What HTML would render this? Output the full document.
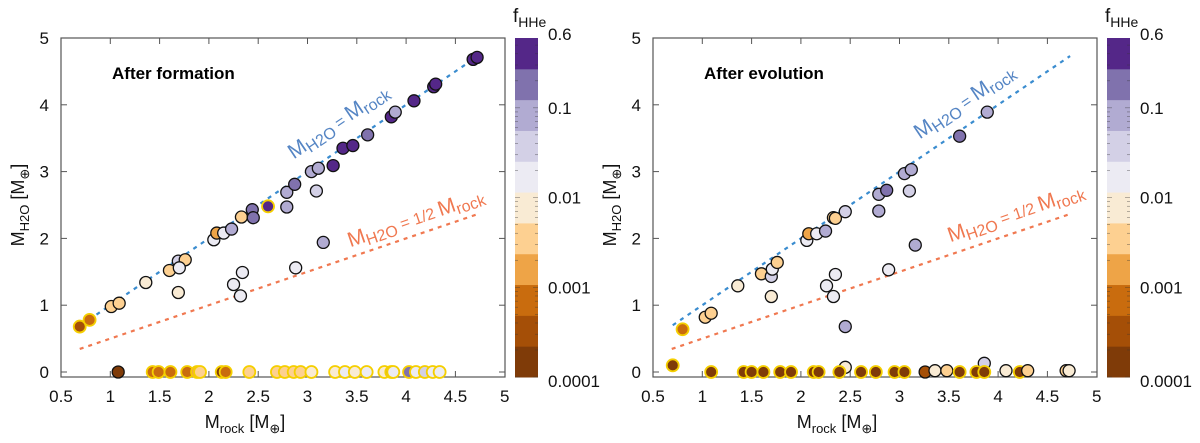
<!DOCTYPE html>
<html><head><meta charset="utf-8"><style>
html,body{margin:0;padding:0;background:#fff;}
svg{display:block;font-family:"Liberation Sans",Arial,sans-serif;}
</style></head><body>
<svg id="fig" width="1200" height="443" viewBox="0 0 1200 443" xmlns="http://www.w3.org/2000/svg"></svg>
<script>
// ---- data ----
const bandColors = ["#7f3b08","#a54f07","#c96c0e","#eea447","#fdd091","#f9ebd4","#ecebf3","#d3d0e6","#b1abd2","#8072ad","#542788"];
const cbTickVals = [0.6,0.1,0.01,0.001,0.0001];
const cbTickLabels = ["0.6","0.1","0.01","0.001","0.0001"];
const xTickVals = [0.5,1,1.5,2,2.5,3,3.5,4,4.5,5];
const xTickLabels = ["0.5","1","1.5","2","2.5","3","3.5","4","4.5","5"];
const yTickVals = [0,1,2,3,4,5];
const yTickLabels = ["0","1","2","3","4","5"];

// After formation (x = Mrock, y = MH2O, f = fHHe, e = edge y/k)
const formX = [0.69,0.79,1.01,1.09,1.36,1.60,1.69,1.76,1.70,1.69,2.05,2.08,2.15,2.23,2.33,2.44,2.45,2.60,2.34,2.25,2.32,2.79,2.87,2.79,3.04,3.11,3.09,2.88,3.16,3.26,3.36,3.46,3.61,3.85,3.89,4.08,4.28,4.30,4.68,4.72,
 1.08,1.43,1.49,1.61,1.78,1.88,1.91,2.13,2.17,2.41,2.69,2.77,2.86,2.93,3.04,3.28,3.38,3.48,3.60,3.78,3.85,3.87,4.03,4.10,4.19,4.27,4.34];
const formY = [0.68,0.78,0.98,1.03,1.34,1.52,1.66,1.68,1.56,1.19,1.98,2.08,2.08,2.14,2.32,2.43,2.31,2.48,1.49,1.31,1.14,2.69,2.81,2.47,3.00,3.05,2.71,1.56,1.94,3.09,3.35,3.39,3.55,3.82,3.89,4.06,4.27,4.31,4.68,4.71,
 0,0,0,0,0,0,0,0,0,0,0,0,0,0,0,0,0,0,0,0,0,0,0,0,0,0,0];
const formF = [0.0003,0.0008,0.0035,0.0035,0.01,0.0035,0.04,0.0035,0.02,0.01,0.02,0.0016,0.02,0.09,0.0035,0.2,0.2,0.45,0.02,0.02,0.02,0.09,0.2,0.09,0.09,0.09,0.04,0.02,0.09,0.45,0.45,0.45,0.2,0.45,0.09,0.45,0.45,0.45,0.45,0.45,
 0.00015,0.0008,0.0008,0.0008,0.0008,0.0016,0.0035,0.00015,0.0008,0.0035,0.0035,0.0035,0.0035,0.0035,0.01,0.01,0.02,0.01,0.02,0.01,0.2,0.02,0.2,0.02,0.04,0.02,0.02];
const formE = "yykkkkkkkkkkkkkkkykkkkkkkkkkkkkkkkkkkkkkkyyyyyyyyyyyyyyyyyyyyyyyyyyy";

// After evolution
const evoX = [0.70,0.80,1.03,1.09,1.36,1.60,1.70,1.71,1.76,1.70,2.06,2.08,2.16,2.25,2.33,2.35,2.45,2.35,2.26,2.33,2.45,2.79,2.87,2.79,3.05,3.12,3.10,2.89,3.16,3.61,3.89,2.45,3.86,
 1.09,1.42,1.50,1.62,1.79,1.90,2.13,2.18,2.39,2.61,2.76,2.95,3.05,3.26,3.36,3.48,3.61,3.78,3.86,4.08,4.22,4.30,4.69,4.72];
const evoY = [0.10,0.64,0.82,0.88,1.29,1.47,1.43,1.54,1.64,1.13,1.97,2.07,2.07,2.11,2.31,2.30,2.40,1.46,1.29,1.13,0.68,2.66,2.72,2.41,2.97,3.03,2.71,1.53,1.90,3.53,3.89,0.07,0.13,
 0,0,0,0,0,0,0,0,0,0,0,0,0,0,0.02,0.02,0,0,0,0.02,0,0.02,0.02,0.02];
const evoF = [0.00015,0.0008,0.0035,0.0035,0.01,0.0035,0.04,0.02,0.0035,0.01,0.02,0.0016,0.02,0.09,0.0035,0.0035,0.04,0.02,0.02,0.02,0.09,0.09,0.2,0.09,0.09,0.09,0.04,0.02,0.09,0.2,0.09,0.01,0.04,
 0.00015,0.00015,0.00015,0.00015,0.00015,0.00015,0.00015,0.00015,0.00015,0.00015,0.00015,0.00015,0.00015,0.0003,0.01,0.0035,0.00015,0.00015,0.00015,0.01,0.00015,0.0035,0.0035,0.01];
const evoE = "yykkkkkkkkkkkkkkkkkkkkkkkkkkkkkkkyyyyyyyyyyyyykkkyyykykkk";

// ---- drawing ----
const NS = "http://www.w3.org/2000/svg";
const svg = document.getElementById('fig');
function mk(tag, attrs, parent){ const e=document.createElementNS(NS,tag); for(const k in attrs) e.setAttribute(k,attrs[k]); (parent||svg).appendChild(e); return e; }
function bandOf(f){ const lo=Math.log10(0.0001), hi=Math.log10(0.6); let b=Math.floor((Math.log10(f)-lo)/(hi-lo)*11); return Math.max(0,Math.min(10,b)); }

function panel(px0, title, X, Y, F, E, blueLbl, orangeLbl, cbx, name){
  const g = mk('g',{});
  
  
  const L=px0, R=px0+444, T=38, B=377;
  const sx = v => L + (v-0.5)*98.6;
  const sy = v => 372 - v*66.8;
  const fr = mk('rect',{x:L,y:T,width:R-L,height:B-T,fill:'none',stroke:'#555','stroke-width':1.2},g);
   
  xTickVals.forEach((v,i)=>{
    const x=sx(v);
    if(i>0 && i<xTickVals.length-1){ mk('line',{x1:x,y1:B,x2:x,y2:B-6,stroke:'#555'},g); mk('line',{x1:x,y1:T,x2:x,y2:T+6,stroke:'#555'},g); }
    const t=mk('text',{x:x,y:402,'font-size':17,'text-anchor':'middle',fill:'#111'},g); t.textContent=xTickLabels[i];
     
  });
  yTickVals.forEach((v,i)=>{
    const y=sy(v);
    if(i<yTickVals.length-1){ mk('line',{x1:L,y1:y,x2:L+6,y2:y,stroke:'#555'},g); mk('line',{x1:R,y1:y,x2:R-6,y2:y,stroke:'#555'},g); }
    const t=mk('text',{x:L-12,y:y+6,'font-size':17,'text-anchor':'end',fill:'#111'},g); t.textContent=yTickLabels[i];
     
  });
  const xt=mk('text',{x:L+184,y:428,'font-size':18,'text-anchor':'middle',fill:'#111'},g);
  xt.innerHTML='M<tspan font-size="13" dy="5">rock</tspan><tspan dy="-5"> [M</tspan><tspan font-size="13" dy="5">⊕</tspan><tspan dy="-5">]</tspan>';
   
  const yt=mk('text',{x:0,y:0,'font-size':18,'text-anchor':'middle',fill:'#111',transform:`translate(${L-37},205) rotate(-90)`},g);
  yt.innerHTML='M<tspan font-size="13" dy="5">H2O</tspan><tspan dy="-5"> [M</tspan><tspan font-size="13" dy="5">⊕</tspan><tspan dy="-5">]</tspan>';
   
  const tt=mk('text',{x:L+51,y:79,'font-size':17,'font-weight':'bold',fill:'#000'},g); tt.textContent=title;
   
  const b1=mk('line',{x1:sx(blueLbl.x0),y1:sy(blueLbl.x0),x2:sx(4.73),y2:sy(4.73),stroke:'#3a8ccf','stroke-width':2.2,'stroke-dasharray':'4 5'},g);
   
  const o1=mk('line',{x1:sx(0.69),y1:sy(0.345),x2:sx(4.72),y2:sy(2.36),stroke:'#f07850','stroke-width':2.2,'stroke-dasharray':'4 5'},g);
   
  const bl=mk('text',{x:0,y:0,'font-size':21,'text-anchor':'middle',fill:'#5585c4',transform:`translate(${blueLbl.cx},${blueLbl.cy}) rotate(-34)`},g);
  bl.innerHTML='M<tspan font-size="16" dy="4">H2O</tspan><tspan dy="-4" font-size="16"> = </tspan>M<tspan font-size="16" dy="4">rock</tspan>';
   
  const ol=mk('text',{x:0,y:0,'font-size':21,'text-anchor':'middle',fill:'#f07850',transform:`translate(${orangeLbl.cx},${orangeLbl.cy}) rotate(-19)`},g);
  ol.innerHTML='M<tspan font-size="16" dy="4">H2O</tspan><tspan dy="-4" font-size="16"> = 1/2 </tspan>M<tspan font-size="16" dy="4">rock</tspan>';
   
  for(let i=0;i<X.length;i++){
    const c=mk('circle',{cx:sx(X[i]),cy:sy(Y[i]),r:6,fill:bandColors[bandOf(F[i])],stroke:E[i]==='y'?'#f5cf00':'#111','stroke-width':E[i]==='y'?1.8:1.3},g);
    
    
  }
  const cb=mk('g',{},g);
   
  const cT=38, cB=377, bh=(cB-cT)/11;
  for(let b=0;b<11;b++){
    const r=mk('rect',{x:cbx,y:cB-(b+1)*bh,width:23,height:bh+0.5,fill:bandColors[b]},cb);
     
  }
  const cy = f => cB - (Math.log10(f)+4)/(Math.log10(0.6)+4)*(cB-cT);
  for(let d=-4; d<0; d++) for(let m=1;m<10;m++){ const f=m*Math.pow(10,d); if(f>0.6) break; const y=cy(f); const len=m===1?5:3;
    mk('line',{x1:cbx,y1:y,x2:cbx+len,y2:y,stroke:'#333','stroke-width':0.6,opacity:0.6},cb); mk('line',{x1:cbx+23,y1:y,x2:cbx+23-len,y2:y,stroke:'#333','stroke-width':0.6,opacity:0.6},cb); }
  cbTickVals.forEach((v,i)=>{ const t=mk('text',{x:cbx+33,y:cy(v)+(i===0?2:i===4?10:6),'font-size':17,fill:'#111'},cb); t.textContent=cbTickLabels[i];
      });
  const ct=mk('text',{x:cbx-2,y:22,'font-size':19,fill:'#111'},cb);
  ct.innerHTML='f<tspan font-size="14" dy="5">HHe</tspan>';
   
}
panel(61,'After formation',formX,formY,formF,formE,{x0:0.86,cx:342,cy:127},{cx:418,cy:224},515,'panel-after-formation');
panel(653,'After evolution',evoX,evoY,evoF,evoE,{x0:0.70,cx:968,cy:107},{cx:1018,cy:219},1107,'panel-after-evolution');
</script>
</body></html>
